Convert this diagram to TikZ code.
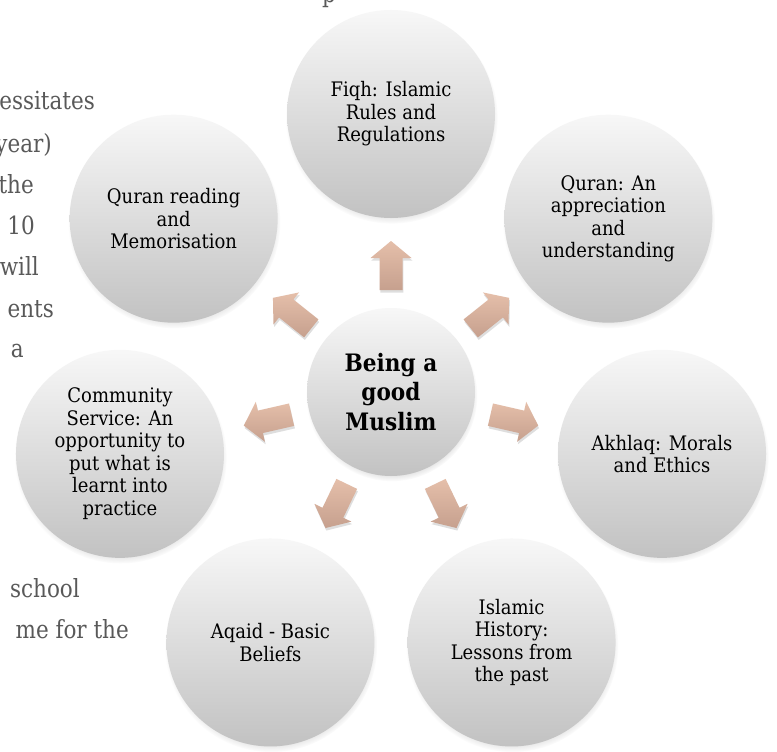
\documentclass[tikz,border=0pt]{standalone}
\usepackage{fontspec}
\setmainfont{DejaVu Serif}
\newfontfamily\circlefont[FakeStretch=0.9]{DejaVu Serif}
\newfontfamily\bodyfont[FakeStretch=0.86]{DejaVu Serif}
\usetikzlibrary{shadows,calc}
\definecolor{bodygray}{HTML}{595959}
\definecolor{arrtop}{HTML}{E5BFAA}
\definecolor{arrbot}{HTML}{C6A08E}
\tikzset{
  bubble/.style={circle, minimum size=208pt, inner sep=0pt,
    top color=white!97!black, bottom color=white!76!black,
    align=center, text=black, font=\circlefont\fontsize{20}{22.5}\selectfont,
    circular drop shadow={shadow xshift=0.6pt, shadow yshift=-3.5pt, shadow scale=1.02, opacity=0.4}},
  hub/.style={bubble, minimum size=168pt, font=\circlefont\bfseries\fontsize{24}{29.5}\selectfont},
  bodytext/.style={anchor=base east, inner sep=0pt, text=bodygray, font=\bodyfont\fontsize{25}{30}\selectfont},
  arrowfill/.style={top color=arrtop, bottom color=arrbot},
  arrowshadow/.style={fill=black, opacity=0.13},
}
\newcommand\blockarr[1]{%
  \begin{scope}[shift={($(hub.center)+(0.8pt,-2.5pt)$)}, rotate=#1]
    \fill[arrowshadow] (102pt,-11.5pt) -- (134pt,-11.5pt) -- (134pt,-20.5pt) -- (151pt,0pt)
      -- (134pt,20.5pt) -- (134pt,11.5pt) -- (102pt,11.5pt) -- cycle;
  \end{scope}
  \begin{scope}[shift={(hub.center)}, rotate=#1]
    \shade[arrowfill] (102pt,-11.5pt) -- (134pt,-11.5pt) -- (134pt,-20.5pt) -- (151pt,0pt)
      -- (134pt,20.5pt) -- (134pt,11.5pt) -- (102pt,11.5pt) -- cycle;
  \end{scope}}
\begin{document}
\begin{tikzpicture}
\useasboundingbox (0,0) rectangle (777pt,-752pt);
\clip (0,0) rectangle (777pt,-752pt);
\fill[white] (0,0) rectangle (777pt,-752pt);
% surrounding body text
\node[bodytext] (p0) at (336pt,-3pt) {p};
\node[bodytext] (t1) at (95pt,-110pt) {essitates};
\node[bodytext] (t2) at (52pt,-152pt) {year)};
\node[bodytext] (t3) at (34pt,-193pt) {the};
\node[bodytext] (t4) at (35pt,-234pt) {10};
\node[bodytext] (t5) at (39pt,-275pt) {will};
\node[bodytext] (t6) at (54pt,-317pt) {ents};
\node[bodytext] (t7) at (24pt,-357pt) {a};
\node[bodytext] (t8) at (80pt,-597pt) {school};
\node[bodytext] (t9) at (129pt,-638pt) {me for the};
% hub
\node[hub] (hub) at (391pt,-392pt) {Being a\\good\\Muslim};
% outer circles
\node[bubble] (fiqh) at ([shift={(90:278pt)}]hub.center) {Fiqh: Islamic\\Rules and\\Regulations};
\node[bubble] (quran) at ([shift={(38.57:278pt)}]hub.center) {Quran: An\\appreciation\\and\\understanding};
\node[bubble] (akhlaq) at ([shift={(-12.86:278pt)}]hub.center) {Akhlaq: Morals\\and Ethics};
\node[bubble] (hist) at ([shift={(-64.29:278pt)}]hub.center) {Islamic\\History:\\Lessons from\\the past};
\node[bubble] (aqaid) at ([shift={(-115.71:278pt)}]hub.center) {Aqaid - Basic\\Beliefs};
\node[bubble] (comm) at ([shift={(-167.14:278pt)}]hub.center) {Community\\Service: An\\opportunity to\\put what is\\learnt into\\practice};
\node[bubble] (read) at ([shift={(141.43:278pt)}]hub.center) {Quran reading\\and\\Memorisation};
% block arrows from hub toward each circle
\blockarr{90}
\blockarr{38.57}
\blockarr{-12.86}
\blockarr{-64.29}
\blockarr{-115.71}
\blockarr{-167.14}
\blockarr{141.43}
\end{tikzpicture}
\end{document}
